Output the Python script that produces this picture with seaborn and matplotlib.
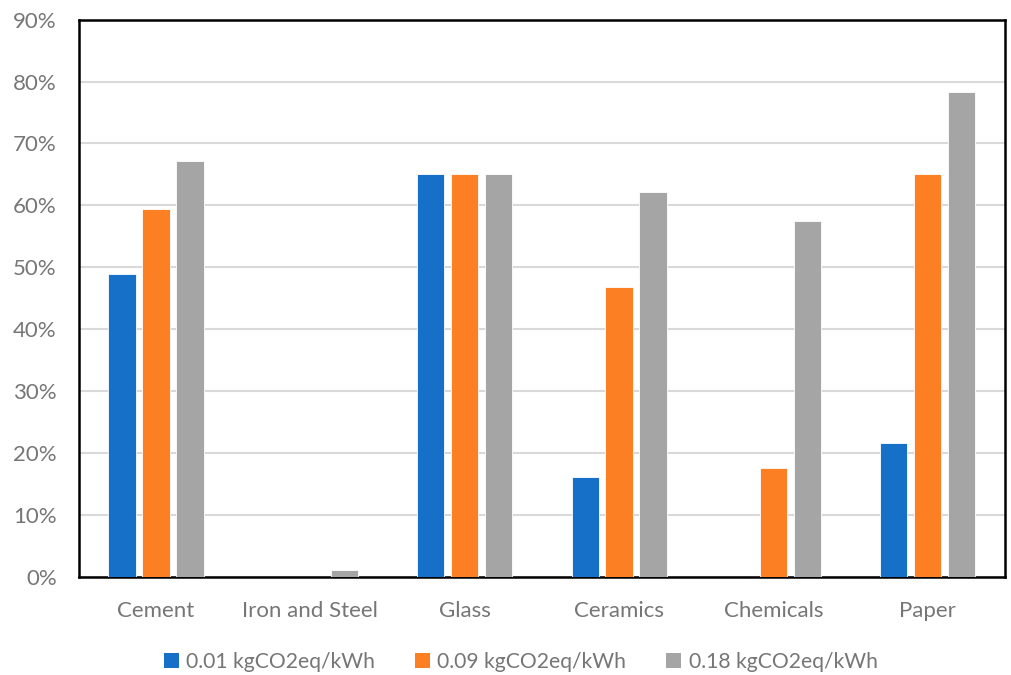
import matplotlib
matplotlib.use("Agg")
import matplotlib.pyplot as plt
from matplotlib.patches import Patch
from matplotlib.ticker import PercentFormatter
import pandas as pd
import seaborn as sns

sectors = ["Cement", "Iron and Steel", "Glass", "Ceramics", "Chemicals", "Paper"]
series_names = ["0.01 kgCO2eq/kWh", "0.09 kgCO2eq/kWh", "0.18 kgCO2eq/kWh"]
share_001 = [49.0, 0.0, 65.0, 16.1, 0.0, 21.6]
share_009 = [59.5, 0.0, 65.0, 46.8, 17.6, 65.0]
share_018 = [67.1, 1.2, 65.0, 62.2, 57.5, 78.3]
colors = ["#1670C8", "#FD7F24", "#A5A5A5"]

rows = []
for name, vals in zip(series_names, [share_001, share_009, share_018]):
    for s, v in zip(sectors, vals):
        rows.append({"sector": s, "series": name, "value": v})
df = pd.DataFrame(rows)

sns.set_theme(style="white")
plt.rcParams["font.family"] = ["Lato", "DejaVu Sans"]

fig = plt.figure(figsize=(10.11, 6.75), dpi=100)
ax = fig.add_axes([0.078, 0.145, 0.916, 0.826])

sns.barplot(data=df, x="sector", y="value", hue="series", order=sectors,
            hue_order=series_names, palette=colors, width=0.66, gap=0.2,
            errorbar=None, saturation=1, ax=ax, legend=False, zorder=3)

for p in ax.patches:
    p.set_edgecolor("white")
    p.set_linewidth(0.6)

ax.set_ylim(0, 90)
ax.set_yticks(range(0, 91, 10))
ax.yaxis.set_major_formatter(PercentFormatter(decimals=0))
ax.grid(axis="y", color="#D9D9D9", linewidth=1.5, zorder=0)
ax.set_axisbelow(True)
ax.set_xlabel("")
ax.set_ylabel("")
ax.tick_params(axis="both", colors="#767676", labelsize=16, length=0)
ax.tick_params(axis="x", pad=17)
ax.tick_params(axis="y", pad=16)
for sp in ax.spines.values():
    sp.set_visible(True)
    sp.set_color("black")
    sp.set_linewidth(1.8)

handles = [Patch(facecolor=c, edgecolor="none") for c in colors]
fig.legend(handles, series_names, loc="center", bbox_to_anchor=(0.515, 0.02),
           ncol=3, frameon=False, fontsize=15.2, handlelength=0.7, handleheight=0.7,
           handletextpad=0.35, columnspacing=1.9, labelcolor="#767676")

fig.savefig("out.png", dpi=100)
